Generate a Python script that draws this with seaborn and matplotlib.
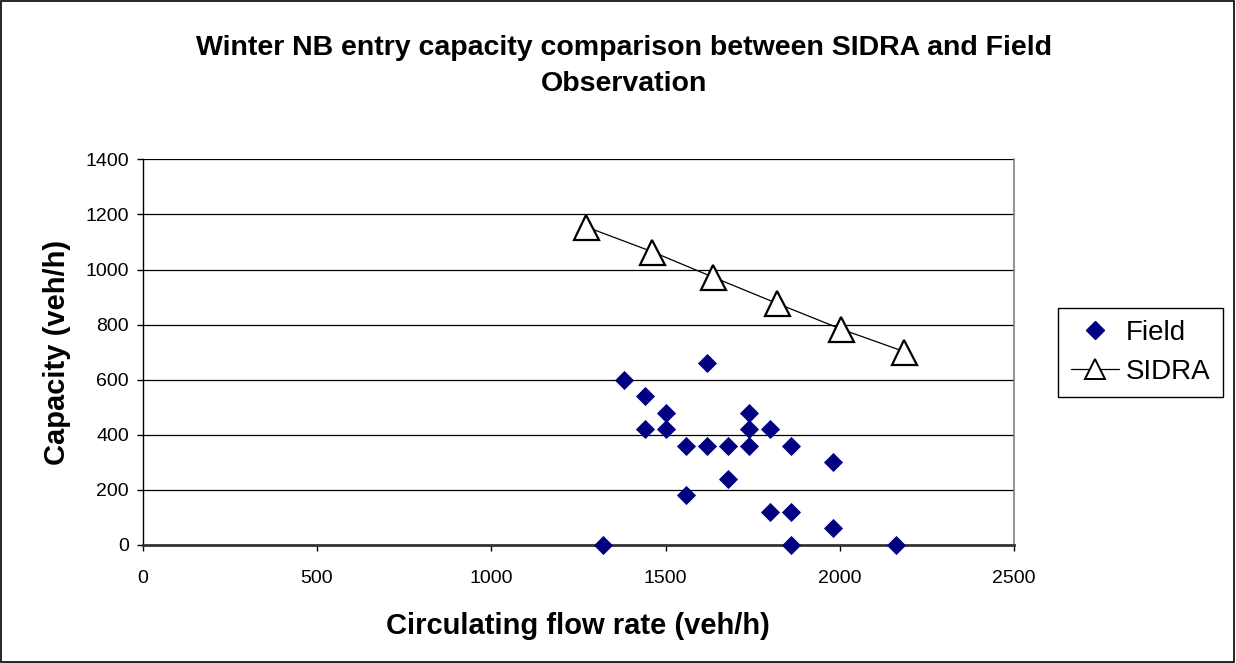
import matplotlib
matplotlib.use("Agg")
import matplotlib.pyplot as plt
from matplotlib.patches import Rectangle
from matplotlib.lines import Line2D
import pandas as pd
import seaborn as sns

# field observations (circulating flow, capacity)
field_flow = [1320, 1380, 1440, 1440, 1500, 1500, 1560, 1560, 1620, 1620,
              1680, 1680, 1740, 1740, 1740, 1800, 1800, 1860, 1860, 1860,
              1980, 1980, 2160]
field_cap = [0, 600, 540, 420, 480, 420, 360, 180, 660, 360,
             360, 240, 480, 420, 360, 420, 120, 360, 120, 0,
             300, 60, 0]

# SIDRA model curve
sidra_flow = [1272, 1461, 1637, 1820, 2003, 2185]
sidra_cap = [1155, 1065, 972, 877, 784, 702]

x_ticks = [0, 500, 1000, 1500, 2000, 2500]
y_ticks = [0, 200, 400, 600, 800, 1000, 1200, 1400]


def main():
    sns.set_style("white")
    plt.rcParams["font.family"] = ["Liberation Sans", "DejaVu Sans"]
    for k in ["text.color", "axes.labelcolor", "xtick.color", "ytick.color"]:
        plt.rcParams[k] = "black"

    df_field = pd.DataFrame({"flow": field_flow, "cap": field_cap})
    df_sidra = pd.DataFrame({"flow": sidra_flow, "cap": sidra_cap})

    fig = plt.figure(figsize=(12.36, 6.63), dpi=100)
    ax = fig.add_axes([0.1155, 0.178, 0.7049, 0.5817])

    for yv in y_ticks[1:]:
        ax.axhline(yv, color="black", lw=0.9, zorder=0)

    sns.lineplot(data=df_sidra, x="flow", y="cap", ax=ax, color="black", lw=0.9,
                 marker="^", markersize=18, markerfacecolor="white",
                 markeredgecolor="black", markeredgewidth=1.6, zorder=3)
    sns.scatterplot(data=df_field, x="flow", y="cap", ax=ax, marker="D",
                    s=95, color="#000080", edgecolor="#000080", linewidth=0,
                    zorder=4, clip_on=False)

    ax.set_xlim(0, 2500)
    ax.set_ylim(0, 1400)
    ax.set_xticks(x_ticks)
    ax.set_yticks(y_ticks)
    ax.tick_params(axis="both", labelsize=14, length=4, width=1, direction="out",
                   color="black", bottom=True, left=True, pad=6)
    ax.tick_params(axis="x", pad=14)

    ax.spines["top"].set_visible(False)
    ax.spines["left"].set_color("black")
    ax.spines["left"].set_linewidth(1)
    ax.spines["bottom"].set_color("#333333")
    ax.spines["bottom"].set_linewidth(2)
    ax.spines["right"].set_color("#808080")
    ax.spines["right"].set_linewidth(1.2)

    ax.set_xlabel("Circulating flow rate (veh/h)", fontsize=21, fontweight="bold",
                  labelpad=18)
    ax.set_ylabel("Capacity (veh/h)", fontsize=21, fontweight="bold", labelpad=10)

    fig.text(0.505, 0.927, "Winter NB entry capacity comparison between SIDRA and Field",
             ha="center", va="center", fontsize=20.5, fontweight="bold")
    fig.text(0.505, 0.874, "Observation", ha="center", va="center",
             fontsize=20.5, fontweight="bold")

    handles = [
        Line2D([], [], ls="none", marker="D", markersize=9, color="#000080"),
        Line2D([], [], color="black", lw=0.9, marker="^", markersize=14,
               markerfacecolor="white", markeredgecolor="black", markeredgewidth=1.4),
    ]
    leg = fig.legend(handles, ["Field", "SIDRA"], loc="upper left",
                     bbox_to_anchor=(0.856, 0.536), fontsize=20, frameon=True,
                     fancybox=False, edgecolor="black", framealpha=1,
                     handlelength=1.75, borderpad=0.45, labelspacing=0.45,
                     handletextpad=0.25, borderaxespad=0)
    leg.get_frame().set_linewidth(1)

    fig.patches.append(Rectangle((0.001, 0.001), 0.997, 0.997, transform=fig.transFigure,
                                 fill=False, edgecolor="black", lw=1.2))

    fig.savefig("out.png", dpi=100)


if __name__ == "__main__":
    main()
